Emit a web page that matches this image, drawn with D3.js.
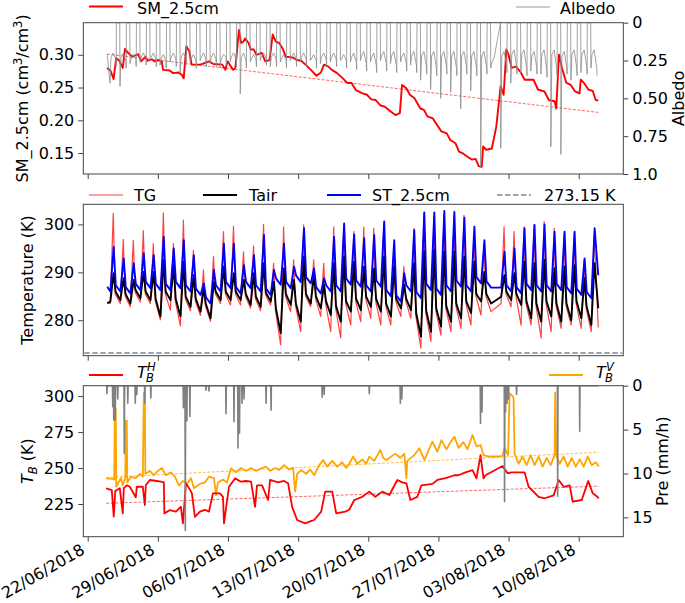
<!DOCTYPE html>
<html><head><meta charset="utf-8">
<script src="https://cdn.jsdelivr.net/npm/d3@7"></script>
<style>
body{margin:0;background:#fff}
svg{display:block}
text{font-family:"DejaVu Sans",sans-serif;fill:#000}
</style>
</head><body>
<svg id="c" width="685" height="603"></svg>
<script>
// ---------------- DATA ----------------
// time in days since 22/06/2018 00:00
const xTickLabels = ["22/06/2018","29/06/2018","06/07/2018","13/07/2018","20/07/2018","27/07/2018","03/08/2018","10/08/2018"];
const xTickDays = [0,7,14,21,28,35,42,49];

// SM_2.5cm
const smDay = [1.92,2.27,2.58,2.84,3.15,3.50,3.72,4.02,4.46,5.03,5.34,5.77,5.99,6.43,6.65,7.09,7.39,7.52,8.18,8.53,9.06,9.41,9.58,9.84,10.15,10.37,11.24,12.12,12.55,13.43,13.74,13.95,14.52,14.74,15.09,15.31,15.53,15.70,16.05,16.27,16.58,16.84,17.37,17.72,18.15,18.46,18.77,19.12,19.47,19.77,20.43,20.87,21.30,21.74,22.27,22.83,23.27,23.58,24.02,24.37,24.89,25.46,25.90,26.33,26.77,27.43,27.87,28.30,28.74,29.18,29.62,30.27,30.71,31.15,31.37,31.80,32.15,32.59,32.90,33.20,33.55,33.90,34.43,34.86,35.30,35.83,36.18,36.70,37.05,37.49,37.93,38.36,38.71,39.02,39.33,39.46,39.76,40.33,40.77,41.21,41.51,41.78,42.0,42.30,42.74,43.18,43.61,44.49,44.93,45.58,46.02,46.59,46.76,47.03,47.33,47.77,48.21,48.64,49.08,49.21,49.52,49.96,50.39,50.70,50.96];
const smVal = [0.280,0.276,0.263,0.295,0.291,0.280,0.309,0.303,0.297,0.301,0.290,0.297,0.291,0.293,0.290,0.292,0.290,0.277,0.276,0.272,0.273,0.269,0.264,0.313,0.305,0.285,0.285,0.290,0.286,0.285,0.277,0.290,0.277,0.280,0.338,0.318,0.320,0.325,0.318,0.308,0.308,0.300,0.303,0.290,0.292,0.331,0.320,0.318,0.309,0.297,0.296,0.292,0.291,0.285,0.277,0.268,0.273,0.285,0.282,0.277,0.272,0.264,0.257,0.257,0.246,0.241,0.239,0.232,0.231,0.223,0.221,0.213,0.208,0.211,0.254,0.249,0.239,0.234,0.226,0.218,0.216,0.206,0.203,0.193,0.183,0.180,0.170,0.165,0.152,0.149,0.144,0.140,0.141,0.130,0.129,0.160,0.155,0.157,0.190,0.252,0.239,0.308,0.300,0.280,0.282,0.274,0.262,0.262,0.247,0.244,0.231,0.229,0.218,0.300,0.280,0.257,0.254,0.244,0.241,0.262,0.257,0.247,0.245,0.231,0.230];
const smTrendDay = [1.92, 50.96];
const smTrendVal = [0.301, 0.212];

// Albedo, one entry per day (24/06 .. 11/08): after sunrise, midday, before sunset
const albMorning = [0.40,0.42,0.27,0.26,0.25,0.28,0.26,0.33,0.26,0.25,0.27,0.30,0.26,0.47,0.26,0.25,0.29,0.26,0.25,0.26,0.25,0.27,0.26,0.25,0.26,0.25,0.26,0.25,0.27,0.26,0.28,0.38,0.44,0.50,0.46,0.57,0.45,0.96,0.30,0.83,0.40,0.33,0.32,0.34,0.82,0.87,0.38,0.33,0.30];
const albMid =     [0.20,0.20,0.21,0.20,0.20,0.21,0.20,0.20,0.21,0.20,0.20,0.21,0.20,0.20,0.21,0.20,0.20,0.21,0.20,0.20,0.21,0.20,0.20,0.21,0.20,0.19,0.20,0.19,0.19,0.20,0.19,0.19,0.19,0.19,0.19,0.19,0.19,0.19,0.235,0.19,0.18,0.18,0.19,0.18,0.18,0.19,0.18,0.18,0.18];
const albEvening = [0.24,0.25,0.24,0.23,0.24,0.25,0.24,0.23,0.25,0.24,0.24,0.23,0.24,0.25,0.24,0.23,0.24,0.25,0.24,0.24,0.25,0.24,0.24,0.25,0.26,0.27,0.28,0.27,0.28,0.27,0.28,0.29,0.30,0.29,0.30,0.29,0.30,0.29,null,0.28,0.29,0.30,0.29,0.31,0.30,0.29,0.30,0.29,0.30];

// Temperatures, one entry per day (24/06 .. 11/08): early-morning minimum, afternoon maximum, evening value (K)
const stMax = [295.3,292.9,291.9,294.0,293.6,297.4,295.0,296.7,293.6,287.7,290.5,296.0,296.0,291.5,293.6,297.8,290.5,296.0,291.2,299.2,290.8,288.8,297.4,300.2,297.9,297.1,297.8,300.6,296.7,289.8,298.8,302.5,302.5,302.8,302.6,301.4,299.5,296.7,null,294.3,295.0,299.2,299.9,300.0,298.5,298.5,298.5,292.9,299.2];
const stMin = [286.0,286.0,285.6,286.3,286.7,286.3,286.3,286.7,286.0,285.3,283.5,286.0,286.7,285.6,286.7,286.0,285.3,287.4,286.7,288.0,287.7,285.6,286.0,286.0,287.4,287.0,286.0,287.0,285.0,283.9,286.0,284.6,286.3,285.3,286.0,287.0,286.0,287.7,286.8,286.8,286.0,285.6,286.3,286.0,286.0,286.3,285.6,285.3,284.6];
const stEve = [287.3,286.9,287.6,288.0,287.6,287.6,288.0,287.3,286.6,284.8,287.3,288.0,286.9,288.0,287.3,286.6,288.7,288.0,289.3,289.0,286.9,287.3,287.3,288.7,288.3,287.3,288.3,286.3,285.2,287.3,285.9,287.6,286.6,287.3,288.3,287.3,289.0,288.1,null,287.3,286.9,287.6,287.3,287.3,287.6,286.9,286.6,285.9,null];
const tairMax = [289.8,288.8,288.4,290.1,290.1,292.6,291.5,292.2,289.4,286.7,288.0,291.2,289.8,288.4,289.8,291.9,288.0,290.8,288.4,293.3,289.4,287.4,291.9,293.3,292.2,291.2,290.8,293.3,291.2,287.4,291.9,294.3,294.7,294.3,294.3,293.3,292.2,290.1,null,289.4,289.8,292.2,291.9,292.6,290.8,291.2,291.5,288.8,291.9];
const tairMin = [283.9,284.2,283.5,284.6,284.2,280.8,284.2,280.8,282.8,281.8,280.4,284.2,284.2,284.2,283.2,282.8,283.9,277.3,283.2,279.7,283.5,282.5,281.1,279.7,281.8,282.1,282.8,281.8,280.8,282.5,282.1,276.6,277.6,278.7,279.7,280.4,281.5,283.9,283.5,284.9,284.2,283.2,280.4,279.7,280.8,279.7,280.0,280.4,279.0];
const tairEve = [286.0,285.5,286.3,286.0,284.5,286.0,284.5,285.0,284.5,283.5,286.0,286.0,286.0,285.5,285.0,285.8,282.5,285.5,283.5,285.5,285.0,284.0,283.0,284.0,284.5,285.0,284.5,283.5,284.5,284.5,281.5,282.0,282.5,283.0,283.5,284.0,285.5,285.5,null,286.0,285.5,284.0,283.5,284.0,283.5,283.5,284.0,283.0,null];
const tgMax = [302.3,296.9,296.7,298.7,296.0,302.4,296.0,300.9,294.6,290.5,293.3,298.5,299.6,294.3,295.5,300.0,291.9,299.5,292.6,299.9,292.6,291.9,299.5,299.5,298.5,299.5,299.2,300.2,295.3,291.2,299.2,302.3,301.6,301.9,301.6,301.9,298.5,296.0,null,299.5,298.5,299.5,299.9,300.6,299.2,298.1,298.1,292.6,297.8];
const tgMin = [283.5,283.5,282.8,283.8,283.5,280.1,282.1,278.8,282.0,281.0,279.8,283.5,283.2,283.2,282.5,282.0,283.2,274.9,281.8,277.6,282.8,280.8,277.6,276.3,279.0,279.7,280.4,279.0,279.0,280.8,280.4,274.2,275.6,276.9,277.6,278.3,279.0,281.1,281.8,283.5,282.8,279.0,279.0,276.3,277.6,278.3,279.0,278.3,277.6];
const tgEve = [285.5,285.0,285.8,285.5,284.0,285.5,284.0,284.5,284.0,283.0,285.5,285.5,285.5,285.0,284.5,285.3,282.0,285.0,283.0,285.0,284.5,283.5,282.5,283.5,284.0,284.5,284.0,283.0,284.0,284.0,281.0,281.5,282.0,282.5,283.0,283.5,285.0,285.0,null,285.5,285.0,283.5,283.0,283.5,283.0,283.0,283.5,282.5,null];
const tempStartDay = 1.95, tempEndDay = 50.95;
const stStartEnd = [287.0, 289.4];
const tairStartEnd = [283.6, 282.5];
const tgStartEnd = [283.5, 278.5];
const freezeK = 273.15;

// Brightness temperatures
const tbvDay = [1.84,2.5,2.65,2.7,2.8,2.85,3.3,3.5,3.75,3.8,3.9,3.95,4.3,4.8,5.2,5.5,5.6,5.7,5.75,6.2,6.6,7.0,7.4,7.8,8.3,8.7,9.1,9.5,9.9,10.3,10.6,11.2,11.7,12.1,12.6,12.8,13.0,13.5,13.9,14.3,14.8,15.3,15.8,16.3,16.8,17.4,17.8,18.2,18.7,19.1,19.6,20.1,20.5,20.7,20.9,21.3,21.8,22.2,22.6,23.1,23.5,23.9,24.4,24.9,25.4,25.8,26.1,26.5,26.9,27.4,27.8,28.1,28.6,29.2,29.5,29.8,30.3,30.7,31.2,31.6,31.8,31.9,32.2,32.6,33.1,33.6,34.0,34.4,34.9,35.3,35.8,36.2,36.6,37.0,37.5,37.9,38.4,38.8,39.2,39.5,40.0,41.0,41.4,41.6,41.95,42.1,42.4,42.5,42.6,43.0,43.4,43.8,44.2,44.6,45.0,45.4,45.8,46.2,46.6,46.65,46.75,47.1,47.5,47.9,48.3,48.7,49.1,49.5,49.9,50.3,50.7,51.0];
const tbvVal = [242.8,242.5,242,292.6,291,237,243,238,243,283,283,240,244,243,246,244,302.3,302,246,248,245,248,250,245,247,244,238,241,239,243,236,239,240,244,243,231,240,242,240,249.8,247,250,248,250,248,250,251,248,250,248.6,252,249,250,233.6,246,248.6,246,249,245,252,255.6,251,255,251,254,250,253,258,253,256,253,257.9,255,262.5,257,255.6,258,260,257,260,242.8,255,256.7,259,263.7,255.6,262,268.3,261.3,269.4,263,268,271.8,264,268,263,272.9,265,266,259,258,258,258.5,264,259,301.9,300,299,260,253,258,252,259,252,258,251,257,252,259,302.5,259,253,258,251,257,251,256,251,258,252,254,251];
const tbhDay = [1.84,2.4,2.6,2.75,3.2,3.5,3.6,3.9,4.2,4.8,4.9,5.5,5.7,5.8,6.2,6.9,7.3,7.6,7.65,8.2,8.8,9.3,9.5,9.8,10.2,10.4,10.7,11.2,11.7,12.1,12.5,13.2,13.5,13.6,14.1,14.7,15.3,15.8,16.3,16.7,16.9,17.4,18.0,18.2,19.0,19.6,20.0,20.4,20.9,21.7,22.2,22.6,23.3,23.7,24.4,24.8,25.7,26.1,26.6,27.4,28.1,28.7,29.4,30.1,30.9,31.4,31.8,32.2,32.9,33.3,34.4,34.9,35.7,36.6,37.0,37.7,38.4,38.8,39.2,39.5,39.7,41.4,41.9,42.3,43.6,44.0,45.0,45.6,46.5,47.0,47.5,48.1,48.4,49.3,49.7,49.95,50.4,50.7,51.0];
const tbhVal = [235.9,234.7,216.2,234,236,218.5,236,238,237,229.6,237,237,224.3,238,241.7,241,240.5,240,218.5,220.8,219.7,223.1,211.6,239.4,235,232.4,216,219.7,221,219.7,232.4,232.4,230,211.6,237,242.8,240.5,241,240.5,223,238,238,227.8,241.7,240,241,239.4,223,213.9,211.6,213,213.9,219.7,233.6,233.6,218.5,219.7,221,227.8,230,233.6,230,233.6,231.3,241.7,240,239.4,227.8,230,238,239,241.7,243,245,245,247,248.6,242.8,259,242.8,245,251.4,246.3,247,247,237,230,229,231,241.7,237,238,226.6,227.8,235.9,241,232.4,231,229];
const tbvTrendDay = [1.84, 51.0], tbvTrendVal = [243.5, 261.0];
const tbhTrendDay = [1.84, 51.0], tbhTrendVal = [225.5, 237.4];

// Precipitation events (mm/h)
const preDay = [1.92,2.5,2.6,2.75,3.0,3.65,4.0,4.75,4.9,5.7,6.3,9.55,9.74,9.9,10.2,11.8,12.1,13.8,14.6,15.0,15.15,15.4,15.6,17.8,18.3,23.4,23.6,28.1,31.2,31.35,39.2,39.35,41.6,41.7,41.85,42.0,42.8,46.9,49.1];
const preVal = [0.9,2.4,3.9,3.9,1.5,7.7,2.0,2.0,1.0,2.0,1.4,2.5,16.5,4.0,3.5,0.5,0.6,3.2,4.1,7.1,5.4,2.0,1.5,2.0,2.8,1.3,1.0,0.9,2.0,1.5,4.3,3.0,13.2,3.0,2.0,1.5,1.0,12.6,5.2];
const preStartEnd = [1.9, 51.0];

// ---------------- DRAWING ----------------
const base = Date.UTC(2018,5,22);
const T = D => new Date(base + D*864e5);
const svg = d3.select("#c");
const L = 83.3, R = 623.3;
const x = d3.scaleUtc().domain([T(-0.44), T(53.45)]).range([L, R]);
const panels = [{top:22.7,bot:174},{top:204.3,bot:355.7},{top:385.7,bot:536.7}];

const ySM = d3.scaleLinear().domain([0.118,0.349]).range([panels[0].bot, panels[0].top]);
const yAlb = d3.scaleLinear().domain([0,1]).range([panels[0].top, panels[0].bot]);
const yT = d3.scaleLinear().domain([272.6,304.2]).range([panels[1].bot, panels[1].top]);
const yTB = d3.scaleLinear().domain([202.3,307.2]).range([panels[2].bot, panels[2].top]);
const yPre = d3.scaleLinear().domain([0,17.2]).range([panels[2].top, panels[2].bot]);

const defs = svg.append("defs");
panels.forEach((p,i)=>{
  defs.append("clipPath").attr("id","clip"+i).append("rect")
    .attr("x",L).attr("y",p.top).attr("width",R-L).attr("height",p.bot-p.top);
});

function pts(days, vals){ return days.map((d,i)=>({t:T(d), v:vals[i]})).filter(p=>p.v!=null); }
function draw(i, data, y, color, width, extra){
  const line = d3.line().x(d=>x(d.t)).y(d=>y(d.v));
  const p = svg.append("path").attr("clip-path",`url(#clip${i})`)
    .attr("d", line(data)).attr("fill","none").attr("stroke",color)
    .attr("stroke-width",width).attr("stroke-linejoin","round");
  if(extra) extra(p);
  return p;
}

// ---- panel 1: SM & albedo
draw(0, pts(smDay, smVal), ySM, "#ff0000", 1.9);
draw(0, pts(smTrendDay, smTrendVal), ySM, "#ff0000", 1, p=>p.attr("stroke-dasharray","3,1.6").attr("opacity",0.6));
const albPts = [];
albMorning.forEach((m,d)=>{
  const D = d+2;
  if(d===0) albPts.push({t:T(1.95), v:0.21});
  else albPts.push({t:T(D+0.2), v:0});
  albPts.push({t:T(D+0.22), v:m});
  albPts.push({t:T(D+0.32), v:albMid[d]+0.03});
  albPts.push({t:T(D+0.55), v:albMid[d]});
  if(albEvening[d]!=null){
    albPts.push({t:T(D+0.8), v:albEvening[d]});
    albPts.push({t:T(D+0.84), v:albEvening[d]+0.05});
    if(d<albMorning.length-1) albPts.push({t:T(D+0.86), v:0});
  }
});
draw(0, albPts, yAlb, "#8c8c8c", 0.9, p=>p.attr("opacity",0.9));

// ---- panel 2: temperatures
function dailySeries(maxA, minA, eveA, se, minOff, peakOff, eveOff){
  const out=[{t:T(tempStartDay), v:se[0]}];
  maxA.forEach((mx,d)=>{
    const D=d+2;
    if(minA[d]!=null) out.push({t:T(D+minOff), v:minA[d]});
    if(mx!=null) out.push({t:T(D+peakOff), v:mx});
    if(eveA[d]!=null) out.push({t:T(D+eveOff), v:eveA[d]});
  });
  out.push({t:T(tempEndDay), v:se[1]});
  return out;
}
draw(1, dailySeries(tgMax,tgMin,tgEve,tgStartEnd,0.25,0.55,0.74), yT, "#ff2020", 1.2, p=>p.attr("opacity",0.85));
draw(1, dailySeries(tairMax,tairMin,tairEve,tairStartEnd,0.26,0.58,0.78), yT, "#000000", 1.9);
draw(1, dailySeries(stMax,stMin,stEve,stStartEnd,0.26,0.59,0.8), yT, "#0000ff", 1.9);
svg.append("line").attr("x1",L+1).attr("x2",R-1).attr("y1",yT(freezeK)).attr("y2",yT(freezeK))
  .attr("stroke","#778899").attr("stroke-width",1.6).attr("stroke-dasharray","5.5,2.5");

// ---- panel 3: TB & precipitation
draw(2, pts(tbvDay,tbvVal), yTB, "#ffa500", 1.8);
draw(2, pts(tbhDay,tbhVal), yTB, "#ff0000", 1.8);
draw(2, pts(tbvTrendDay,tbvTrendVal), yTB, "#ffa500", 1, p=>p.attr("stroke-dasharray","3,1.6").attr("opacity",0.7));
draw(2, pts(tbhTrendDay,tbhTrendVal), yTB, "#ff0000", 1, p=>p.attr("stroke-dasharray","3,1.6").attr("opacity",0.6));
const prePts=[{t:T(preStartEnd[0]),v:0}];
preDay.forEach((d,i)=>{ prePts.push({t:T(d-0.03),v:0},{t:T(d),v:preVal[i]},{t:T(d+0.03),v:0}); });
prePts.push({t:T(preStartEnd[1]),v:0});
prePts.sort((a,b)=>a.t-b.t);
draw(2, prePts, yPre, "#808080", 1.6);

// ---- frames and axes
panels.forEach((p,i)=>{
  svg.append("rect").attr("x",L).attr("y",p.top).attr("width",R-L).attr("height",p.bot-p.top)
    .attr("fill","none").attr("stroke","#444").attr("stroke-width",1);
  const ax = svg.append("g").attr("transform",`translate(0,${p.bot})`)
    .call(d3.axisBottom(x).tickValues(xTickDays.map(T)).tickFormat("").tickSize(5));
  ax.select(".domain").remove();
  ax.selectAll("line").attr("stroke","#444");
});
function yAxis(scale, vals, fmt, side){
  const isL = side==="left";
  const a = (isL?d3.axisLeft(scale):d3.axisRight(scale)).tickValues(vals).tickSize(5).tickPadding(4);
  if(fmt) a.tickFormat((d,i)=>fmt[i]);
  const g = svg.append("g").attr("transform",`translate(${isL?L:R},0)`).call(a);
  g.select(".domain").remove();
  g.selectAll("line").attr("stroke","#444");
  g.selectAll("text").attr("font-size",16).attr("font-family","DejaVu Sans");
}
yAxis(ySM,[0.15,0.20,0.25,0.30],["0.15","0.20","0.25","0.30"],"left");
yAxis(yAlb,[0,0.25,0.5,0.75,1.0],["0","0.25","0.50","0.75","1.0"],"right");
yAxis(yT,[280,290,300],null,"left");
yAxis(yTB,[225,250,275,300],null,"left");
yAxis(yPre,[0,5,10,15],null,"right");

// bottom x labels
xTickDays.forEach((d,i)=>{
  svg.append("text").attr("font-size",16).attr("text-anchor","end")
    .attr("transform",`translate(${x(T(d))-2},${553}) rotate(-30)`).text(xTickLabels[i]);
});

// axis labels
const lab1 = svg.append("text").attr("font-size",16).attr("text-anchor","middle")
  .attr("transform",`translate(28,98.4) rotate(-90)`);
lab1.append("tspan").text("SM_2.5cm (cm");
lab1.append("tspan").attr("font-size",11.5).attr("dy",-6).text("3");
lab1.append("tspan").attr("dy",6).text("/cm");
lab1.append("tspan").attr("font-size",11.5).attr("dy",-6).text("3");
lab1.append("tspan").attr("dy",6).text(")");
svg.append("text").attr("font-size",16).attr("text-anchor","middle")
  .attr("transform",`translate(33,280) rotate(-90)`).text("Temperature (K)");
const lab3 = svg.append("text").attr("font-size",16).attr("text-anchor","middle")
  .attr("transform",`translate(33,461.2) rotate(-90)`);
lab3.append("tspan").attr("font-style","italic").text("T");
lab3.append("tspan").attr("font-style","italic").attr("font-size",11.5).attr("dy",3.5).text("B");
lab3.append("tspan").attr("dy",-3.5).text(" (K)");
svg.append("text").attr("font-size",16).attr("text-anchor","middle")
  .attr("transform",`translate(684,98.4) rotate(-90)`).text("Albedo");
svg.append("text").attr("font-size",16).attr("text-anchor","middle")
  .attr("transform",`translate(668,461.2) rotate(-90)`).text("Pre (mm/h)");

// legends
function legLine(x1,y,color,w,dash,op){
  svg.append("line").attr("x1",x1).attr("x2",x1+34).attr("y1",y).attr("y2",y)
    .attr("stroke",color).attr("stroke-width",w).attr("stroke-dasharray",dash||null).attr("opacity",op||1);
}
function legText(x1,y,t){ svg.append("text").attr("x",x1).attr("y",y).attr("font-size",16).text(t); }
legLine(89,6.5,"#ff0000",1.9); legText(137,13.5,"SM_2.5cm");
legLine(516,7,"#8c8c8c",0.9); legText(560,13.5,"Albedo");
legLine(89,195,"#ff2020",1.2,null,0.85); legText(134,200.5,"TG");
legLine(203,195,"#000",1.9); legText(249,200.5,"Tair");
legLine(327,195,"#0000ff",1.9); legText(372,200.5,"ST_2.5cm");
legLine(497,195,"#778899",1.6,"5.5,2.5"); legText(544,200.5,"273.15 K");
function tbLegend(x1, sup){
  svg.append("text").attr("x",x1).attr("y",377.5).attr("font-size",16).attr("font-style","italic").text("T");
  svg.append("text").attr("x",x1+10).attr("y",371).attr("font-size",11.5).attr("font-style","italic").text(sup);
  svg.append("text").attr("x",x1+9).attr("y",382).attr("font-size",11.5).attr("font-style","italic").text("B");
}
legLine(89,375,"#ff0000",1.8); tbLegend(137,"H");
legLine(549,375,"#ffa500",1.8); tbLegend(596,"V");
</script>
</body></html>
